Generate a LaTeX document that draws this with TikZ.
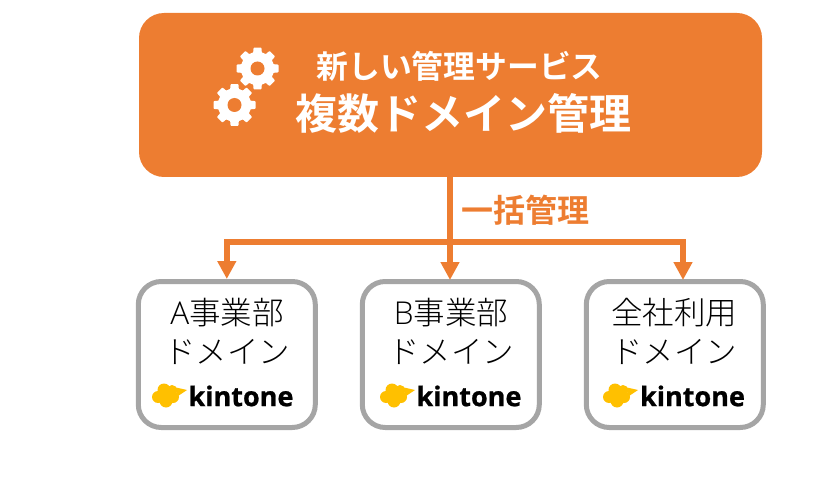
\documentclass[tikz,border=0pt]{standalone}
\usepackage{fontspec}
\usetikzlibrary{arrows.meta,calc}
\setmainfont{Open Sans}
\newfontfamily\cjkb[BoldFont=Noto Sans CJK JP Bold]{Noto Sans CJK JP}
\newfontfamily\cjk{Noto Sans CJK JP Light}
\newfontfamily\latinlight{Open Sans Light}
\newfontfamily\kin[BoldFeatures={FakeBold=0.8}]{Open Sans}
\definecolor{org}{HTML}{ED7D31}
\definecolor{gry}{HTML}{A5A5A5}
\definecolor{yel}{HTML}{FFC000}
\tikzset{
  mainbox/.style={fill=org,draw=none,rounded corners=25pt,minimum width=623pt,minimum height=164pt,inner sep=0pt,outer sep=0pt},
  leafbox/.style={draw=gry,line width=5pt,fill=white,rounded corners=23pt,minimum width=177pt,minimum height=146pt,inner sep=0pt,outer sep=2.5pt},
  wire/.style={draw=org,line width=6pt},
  tipwire/.style={wire,-{Triangle[length=18pt,width=18pt]}},
  whitetxt/.style={text=white,inner sep=0pt},
  leaftxt/.style={inner sep=0pt,text=black,font=\cjk\fontsize{31.5}{32}\selectfont},
  kintxt/.style={inner sep=0pt,font=\kin\bfseries\fontsize{27}{28}\selectfont,text=black}
}
\newcommand{\geardraw}[3]{% x, y, rotation
  \fill[white,even odd rule,draw=white,line width=1.5pt,line join=round]
    ({#1+16*cos(#3-13)},{#2+16*sin(#3-13)})
    \foreach \i in {0,...,7} {
      -- ({#1+20.5*cos(\i*45+#3-9)},{#2+20.5*sin(\i*45+#3-9)})
      -- ({#1+20.5*cos(\i*45+#3+9)},{#2+20.5*sin(\i*45+#3+9)})
      -- ({#1+16*cos(\i*45+#3+13)},{#2+16*sin(\i*45+#3+13)})
      -- ({#1+16*cos(\i*45+#3+32)},{#2+16*sin(\i*45+#3+32)})
    } -- cycle;
  \fill[org] (#1,#2) circle (7);
}
\newcommand{\cloud}[2]{%
  \begin{scope}[shift={(#1,#2)}]
    \fill[yel] (-11,1) circle (6) (-5,-6) circle (6.5) (3,-6) circle (5) (-3,5) circle (6.5) (4,1) circle (6) (-2,0) circle (8);
    \fill[yel] (5,-9) -- (18,-6) -- (9,0) -- cycle;
  \end{scope}
}
\begin{document}
\begin{tikzpicture}[x=1pt,y=-1pt]
\useasboundingbox (0,0) rectangle (825,500);
\node[mainbox] (main) at (450.5,95) {};
\node[leafbox] (a) at (226.8,354.5) {};
\node[leafbox] (b) at (450.8,354.5) {};
\node[leafbox] (c) at (674.8,354.5) {};
\coordinate (junc) at (450,242);
\coordinate (bt) at (450,280);
\coordinate (ct) at (683,280);
\draw[wire] (main.south -| junc) -- (junc);
\draw[tipwire] (junc) -| (a.north);
\draw[tipwire] (junc) -- (bt);
\draw[tipwire] (junc) -| (ct);
\geardraw{257.5}{68.5}{0}
\geardraw{234.5}{105}{0}
\node[whitetxt,font=\cjkb\bfseries\fontsize{31.8}{32}\selectfont] (t1) at (459.5,66) {新しい管理サービス};
\node[whitetxt,font=\cjkb\bfseries\fontsize{42}{44}\selectfont] (t2) at (463,113) {複数ドメイン管理};
\node[inner sep=0pt,text=org,font=\cjkb\bfseries\fontsize{32}{34}\selectfont] (t3) at (525,210) {一括管理};
\node[leaftxt] (a1) at (227,313) {{\latinlight A}事業部};
\node[leaftxt] (a2) at (227,352) {ドメイン};
\node[leaftxt] (b1) at (451,313) {{\latinlight B}事業部};
\node[leaftxt] (b2) at (451,352) {ドメイン};
\node[leaftxt] (c1) at (674,313) {全社利用};
\node[leaftxt] (c2) at (674,352) {ドメイン};
\cloud{169}{396}
\cloud{397}{396}
\cloud{620}{396}
\node[kintxt] (ak) at (241,396) {kintone};
\node[kintxt] (bk) at (469,396) {kintone};
\node[kintxt] (ck) at (692.5,396) {kintone};
\end{tikzpicture}
\end{document}
